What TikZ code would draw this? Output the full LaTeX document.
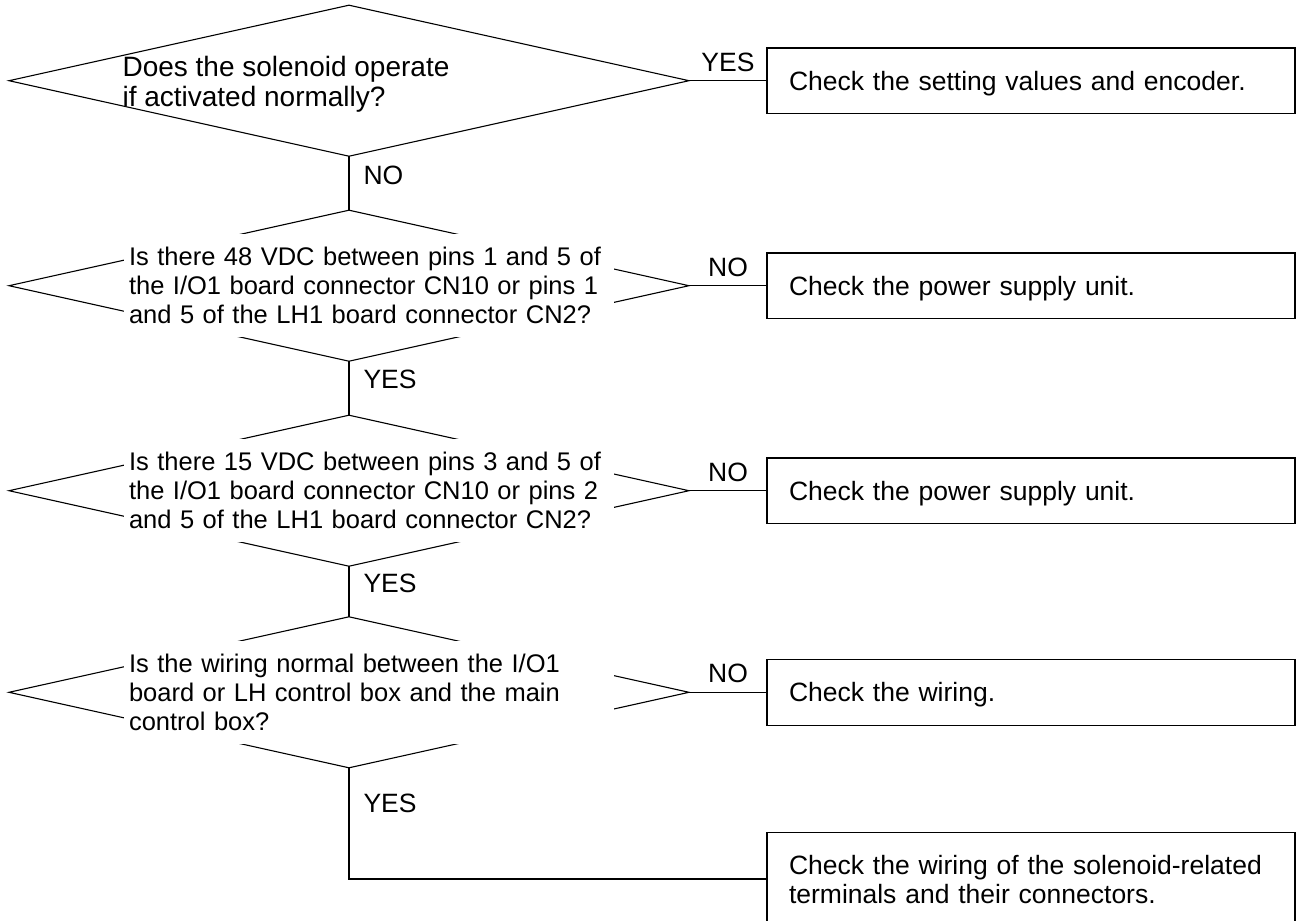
\documentclass[tikz,border=0pt]{standalone}
\usepackage{fontspec}
\setmainfont{Liberation Sans}
\usetikzlibrary{shapes.geometric}
\newcommand{\bigfont}{\fontsize{26.5pt}{29pt}\selectfont}
\newcommand{\askfont}{\fontsize{25.5pt}{29pt}\selectfont}

\begin{document}
\begin{tikzpicture}[x=1pt,y=-1pt,line width=1.1pt,
  every node/.style={font=\bigfont},
  ask/.style={diamond,draw,minimum width=680pt,minimum height=151pt,
    inner sep=0pt,outer sep=0pt},
  asktext/.style={font=\askfont,text width=480pt,align=left,
    inner xsep=5pt,inner ysep=13pt,fill=white},
  fixbox/.style={draw,text width=484pt,align=left,inner xsep=22pt,
    text depth=0pt,minimum height=65.5pt,outer sep=0pt},
  answer/.style={inner sep=0pt}]
    \useasboundingbox (0,0) rectangle (1302,921);

    % ромбы-вопросы
    \node[ask] (q1) at (349,80.7) {};
    \node[ask] (q2) at (349,285.7) {};
    \node[ask] (q3) at (349,490.7) {};
    \node[ask] (q4) at (349,692.3) {};

    % тексты вопросов (белый фон разрывает контур)
    \node[font=\fontsize{28pt}{30.5pt}\selectfont,align=left,inner sep=0pt,
      anchor=north west] (q1t) at (122,55.5)
      {Does the solenoid operate\\if activated normally?};
    \node[asktext] (q2t) at ([xshift=20pt]q2.center)
      {Is there 48 VDC between pins 1 and 5 of\\the I/O1 board connector CN10 or pins 1\\and 5 of the LH1 board connector CN2?};
    \node[asktext] (q3t) at ([xshift=20pt]q3.center)
      {Is there 15 VDC between pins 3 and 5 of\\the I/O1 board connector CN10 or pins 2\\and 5 of the LH1 board connector CN2?};
    \node[asktext] (q4t) at ([xshift=20pt]q4.center)
      {Is the wiring normal between the I/O1\\board or LH control box and the main\\control box?};

    % действия
    \node[fixbox] (fix1) at (1031,80.7) {Check the setting values and encoder.};
    \node[fixbox] (fix2) at (1031,285.7) {Check the power supply unit.};
    \node[fixbox] (fix3) at (1031,490.7) {Check the power supply unit.};
    \node[fixbox] (fix4) at (1031,692.3) {Check the wiring.};
    \node[fixbox,text depth=29pt,minimum height=92.6pt] (fix5) at (1031,879)
      {Check the wiring of the solenoid-related\\terminals and their connectors.};

    % связи вправо
    \draw (q1.east) -- (fix1.west) node[answer,midway,above=8.7pt] {YES};
    \draw (q2.east) -- (fix2.west) node[answer,midway,above=8.7pt] {NO};
    \draw (q3.east) -- (fix3.west) node[answer,midway,above=8.7pt] {NO};
    \draw (q4.east) -- (fix4.west) node[answer,midway,above=8.7pt] {NO};

    % связи вниз
    \draw (q1.south) -- (q2.north) node[answer,pos=0.36,anchor=west,xshift=14pt] {NO};
    \draw (q2.south) -- (q3.north) node[answer,pos=0.33,anchor=west,xshift=14pt] {YES};
    \draw (q3.south) -- (q4.north) node[answer,pos=0.33,anchor=west,xshift=14pt] {YES};
    \draw (q4.south) |- (fix5.west) node[answer,pos=0.16,anchor=west,xshift=14pt] {YES};
\end{tikzpicture}
\end{document}
